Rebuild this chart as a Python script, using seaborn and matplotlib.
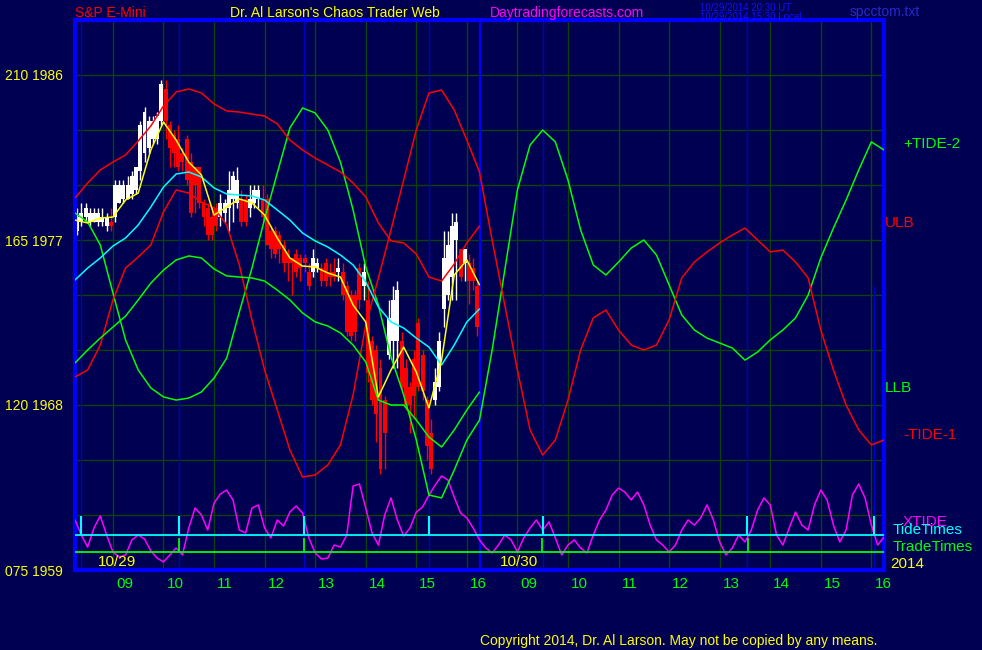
import numpy as np
import matplotlib
matplotlib.use('Agg')
import matplotlib.pyplot as plt
import matplotlib.transforms as mtransforms
import seaborn as sns

# Eixo x: horas de pregao desde 10/29 08:15 (0-8 = dia 10/29, 8-16 = dia 10/30)

# Candles de 5 minutos do dia 10/29
abertura = [1977.5, 1978.0, 1978.25, 1978.0, 1978.0, 1978.0, 1978.0, 1977.75, 1978.0, 1978.25,
            1979.0, 1979.25, 1979.25, 1979.5, 1979.75, 1980.75, 1981.75, 1982.0, 1982.5, 1982.5,
            1983.5, 1985.25, 1983.25, 1982.75, 1982.5, 1981.75, 1982.5, 1981.25, 1981.0, 1981.0,
            1979.0, 1978.75, 1978.25, 1978.75, 1978.25, 1978.5, 1978.75, 1979.25, 1979.0, 1979.25,
            1979.25, 1978.75, 1979.0, 1979.25, 1979.25, 1979.25, 1977.5, 1977.5, 1977.25, 1976.75,
            1976.25, 1976.0, 1976.25, 1976.0, 1976.0, 1975.25, 1975.25, 1975.5, 1975.5, 1975.75,
            1975.25, 1975.25, 1975.25, 1975.25, 1974.5, 1974.0, 1974.0, 1975.5, 1974.5, 1973.75,
            1971.5, 1971.0, 1970.0, 1968.25, 1970.75, 1971.5, 1971.5, 1971.5, 1970.0, 1969.0,
            1970.5, 1972.5, 1970.75, 1968.25, 1966.5, 1968.25, 1969.0, 1973.25, 1974.0, 1975.0,
            1977.0, 1976.5, 1975.75, 1975.75, 1975.5, 1974.5]
maxima = [1978.75, 1979.0, 1979.0, 1978.75, 1978.75, 1978.75, 1978.75, 1978.5, 1978.75, 1980.25,
          1980.25, 1980.25, 1980.5, 1980.75, 1981.0, 1983.5, 1984.25, 1983.75, 1983.75, 1984.0,
          1985.75, 1985.75, 1983.5, 1983.0, 1983.25, 1982.0, 1982.75, 1981.75, 1981.0, 1981.0,
          1979.25, 1979.0, 1978.75, 1979.0, 1979.5, 1979.25, 1980.75, 1980.75, 1981.0, 1979.75,
          1979.5, 1980.0, 1980.0, 1980.0, 1980.0, 1979.5, 1977.75, 1977.75, 1977.5, 1977.0,
          1976.5, 1976.0, 1976.5, 1976.25, 1976.25, 1975.75, 1976.5, 1976.0, 1975.75, 1976.0,
          1975.75, 1976.0, 1976.0, 1975.75, 1974.75, 1974.25, 1974.25, 1975.75, 1975.75, 1974.75,
          1971.75, 1971.25, 1970.5, 1968.5, 1973.75, 1974.5, 1974.75, 1972.0, 1970.5, 1969.25,
          1971.0, 1972.75, 1971.0, 1968.5, 1967.25, 1970.0, 1972.0, 1977.5, 1977.5, 1978.5,
          1978.5, 1976.5, 1976.5, 1976.25, 1976.0, 1974.75]
minima = [1977.25, 1977.75, 1978.0, 1977.75, 1978.0, 1977.75, 1977.75, 1977.5, 1977.5, 1978.0,
          1979.0, 1979.0, 1979.25, 1979.25, 1979.5, 1980.25, 1981.25, 1981.75, 1982.25, 1982.25,
          1983.25, 1982.5, 1981.0, 1981.0, 1980.75, 1980.75, 1980.0, 1978.25, 1978.5, 1978.75,
          1977.75, 1977.0, 1977.0, 1977.5, 1977.75, 1978.0, 1977.5, 1978.0, 1978.75, 1977.75,
          1977.75, 1978.25, 1978.75, 1978.75, 1978.0, 1976.75, 1976.0, 1976.0, 1975.75, 1975.25,
          1974.75, 1974.0, 1975.0, 1974.75, 1975.25, 1974.25, 1975.0, 1975.25, 1974.5, 1974.5,
          1974.5, 1974.75, 1974.75, 1973.75, 1971.75, 1971.5, 1971.5, 1973.25, 1973.75, 1969.25,
          1968.0, 1966.0, 1964.25, 1964.5, 1970.5, 1970.0, 1970.0, 1968.75, 1967.75, 1966.5,
          1967.25, 1968.75, 1968.25, 1965.0, 1964.25, 1968.0, 1968.75, 1972.25, 1973.75, 1973.75,
          1973.75, 1974.75, 1974.75, 1973.5, 1974.25, 1971.75]
fechamento = [1978.25, 1978.5, 1978.75, 1978.5, 1978.5, 1978.5, 1978.25, 1978.25, 1977.75, 1980.0,
              1980.0, 1980.0, 1980.0, 1980.5, 1981.0, 1983.25, 1984.0, 1983.5, 1983.5, 1983.75,
              1985.5, 1983.5, 1982.0, 1981.75, 1981.0, 1981.25, 1980.25, 1978.5, 1980.0, 1979.0,
              1978.25, 1977.25, 1977.25, 1977.75, 1979.0, 1979.0, 1979.75, 1980.5, 1980.25, 1978.0,
              1978.0, 1979.25, 1979.75, 1979.75, 1978.25, 1976.75, 1976.5, 1976.25, 1976.5, 1975.75,
              1975.75, 1975.75, 1975.25, 1975.5, 1975.75, 1974.5, 1976.0, 1975.75, 1974.75, 1974.75,
              1975.0, 1975.0, 1975.5, 1974.0, 1972.0, 1971.75, 1972.0, 1973.75, 1975.25, 1969.75,
              1968.25, 1967.5, 1964.5, 1966.5, 1972.75, 1973.75, 1974.25, 1969.0, 1968.0, 1968.0,
              1968.5, 1969.0, 1968.75, 1965.75, 1964.5, 1969.25, 1971.5, 1976.0, 1976.75, 1977.75,
              1978.0, 1975.0, 1976.5, 1974.75, 1974.75, 1972.25]

# Bandas e medias do dia 10/29, a cada 15 minutos
ulb = [1979.29, 1980.11, 1980.82, 1981.25, 1981.64, 1982.40, 1983.22, 1984.31, 1985.07, 1985.24,
       1985.02, 1984.42, 1984.04, 1983.98, 1983.87, 1983.76, 1983.33, 1982.45, 1981.91, 1981.47,
       1981.09, 1980.71, 1980.11, 1979.35, 1977.93, 1976.95, 1976.84, 1976.24, 1974.98, 1974.76,
       1975.69, 1976.84, 1977.76]
centro = [1974.82, 1975.47, 1976.02, 1976.67, 1977.11, 1977.82, 1978.80, 1979.89, 1980.60, 1980.71,
          1980.44, 1979.84, 1979.51, 1979.45, 1979.40, 1979.18, 1978.64, 1978.09, 1977.38, 1976.95,
          1976.62, 1976.18, 1975.64, 1974.71, 1973.35, 1972.53, 1972.20, 1971.65, 1971.16, 1970.18,
          1971.27, 1972.53, 1973.24]
media = [1978.09, 1977.93, 1978.20, 1978.25, 1979.18, 1979.56, 1981.91, 1983.44, 1982.45, 1981.25,
         1980.55, 1978.36, 1978.80, 1979.24, 1979.02, 1978.36, 1977.11, 1976.02, 1975.58, 1975.53,
         1975.20, 1974.98, 1973.45, 1972.53, 1968.44, 1969.91, 1971.16, 1969.80, 1967.84, 1970.45,
         1975.09, 1975.91, 1974.55]
llb = [1970.29, 1971.0, 1971.65, 1972.25, 1972.85, 1973.73, 1974.65, 1975.36, 1975.91, 1976.13,
       1976.02, 1975.42, 1975.04, 1974.98, 1974.93, 1974.76, 1974.27, 1973.73, 1973.02, 1972.53,
       1972.31, 1971.93, 1971.27, 1970.35, 1968.27, 1968.0, 1968.0, 1967.18, 1966.25, 1965.71,
       1966.64, 1967.73, 1968.71]

# Curvas de mare dos dois dias, a cada 15 minutos
tide_2 = [1978.47, 1977.98, 1976.73, 1974.11, 1971.55, 1969.91, 1968.93, 1968.44, 1968.27, 1968.38,
          1968.71, 1969.47, 1970.56, 1973.07, 1975.47, 1978.15, 1980.65, 1983.11, 1984.20, 1983.93,
          1983.0, 1981.25, 1978.64, 1975.53, 1973.45, 1970.62, 1968.55, 1966.09, 1963.09, 1962.93,
          1964.45, 1966.09, 1967.18, 1971.0, 1975.36, 1979.73, 1982.18, 1983.0, 1982.35, 1980.27,
          1977.55, 1975.64, 1975.09, 1975.80, 1976.56, 1977.0, 1976.18, 1974.55, 1972.91, 1972.09,
          1971.65, 1971.38, 1971.11, 1970.45, 1970.89, 1971.55, 1972.09, 1972.75, 1974.0, 1976.02,
          1977.65, 1979.18, 1980.82, 1982.35, 1981.91]
tide_1 = [1969.53, 1969.91, 1971.27, 1973.73, 1975.47, 1976.07, 1976.73, 1978.53, 1979.73, 1979.56,
          1979.07, 1978.75, 1977.82, 1975.64, 1972.64, 1969.91, 1967.73, 1965.55, 1964.07, 1964.18,
          1964.73, 1965.82, 1968.55, 1972.36, 1974.93, 1977.55, 1980.27, 1983.0, 1985.02, 1985.18,
          1984.09, 1982.45, 1980.71, 1977.0, 1973.45, 1969.91, 1966.64, 1965.27, 1966.09, 1968.27,
          1971.0, 1972.75, 1973.18, 1972.09, 1971.27, 1971.0, 1971.27, 1972.64, 1974.93, 1975.80,
          1976.35, 1976.84, 1977.27, 1977.65, 1977.0, 1976.35, 1976.45, 1975.80, 1974.93, 1972.09,
          1969.91, 1968.0, 1966.64, 1965.82, 1966.09]

# Oscilador XTIDE, a cada 7,5 minutos
xtide = [1961.73, 1960.91, 1960.25, 1961.29, 1961.95, 1960.91, 1959.98, 1959.71, 1959.82, 1960.64,
         1960.91, 1960.69, 1960.04, 1959.65, 1959.44, 1959.82, 1960.20, 1959.82, 1961.29, 1962.38,
         1962.0, 1961.18, 1962.65, 1963.15, 1963.36, 1962.82, 1961.18, 1961.02, 1962.38, 1962.55,
         1961.29, 1960.75, 1961.73, 1961.40, 1962.16, 1962.49, 1962.11, 1960.75, 1959.93, 1959.60,
         1959.65, 1960.36, 1960.25, 1960.91, 1963.58, 1963.69, 1962.38, 1961.02, 1960.36, 1962.0,
         1962.93, 1961.73, 1960.85, 1961.29, 1962.16, 1962.44, 1963.09, 1963.64, 1964.13, 1963.91,
         1962.98, 1962.11, 1961.84, 1961.29, 1960.64,
         1960.20, 1959.93, 1960.36, 1960.91, 1960.64, 1959.98, 1960.75, 1961.29, 1961.73, 1961.18,
         1961.62, 1960.75, 1959.82, 1960.36, 1960.64, 1960.20, 1959.93, 1960.91, 1961.73, 1962.27,
         1963.09, 1963.47, 1963.25, 1962.82, 1963.25, 1962.55, 1961.45, 1960.64, 1960.36, 1959.98,
         1960.36, 1961.18, 1961.73, 1961.45, 1961.84, 1962.55, 1961.73, 1960.53, 1959.82, 1960.20,
         1960.91, 1960.53, 1961.18, 1962.27, 1962.93, 1962.55, 1960.91, 1960.36, 1961.29, 1962.16,
         1961.45, 1961.18, 1962.55, 1963.36, 1962.82, 1961.45, 1960.53, 1961.18, 1963.09, 1963.69,
         1962.93, 1961.45, 1960.36, 1960.80]

tide_times = [0.12, 2.06, 4.53, 7.0, 9.26, 13.29, 15.8]
trade_times = [2.06, 4.53, 9.24, 13.31]
nivel_tide, topo_tide = 1960.91, 1961.95
nivel_trade, topo_trade = 1959.98, 1960.75

horas = ['09', '10', '11', '12', '13', '14', '15', '16']
precos_eixo = [1959, 1968, 1977, 1986]
rotulos_eixo = ['075 1959', '120 1968', '165 1977', '210 1986']

# tempos
t_candle = np.arange(len(abertura)) / 12 + 1 / 24
t_banda = np.arange(len(ulb)) * 0.25
t_tide = np.arange(len(tide_1)) * 0.25
t_xtide = np.arange(len(xtide)) * 0.125
t_horas = [h + 0.75 for h in range(8)] + [h + 8.75 for h in range(8)]

fundo = '#000052'
grade = '#0a420a'

sns.set_style('dark')
plt.rcParams['font.family'] = 'Liberation Sans'

fig = plt.figure(figsize=(9.82, 6.5), dpi=100, facecolor=fundo)
ax = fig.add_axes([75 / 982, 80 / 650, 809 / 982, 550 / 650])
ax.set_facecolor(fundo)
ax.set_xlim(0, 16)
ax.set_ylim(1959, 1989)

# grade
ax.set_yticks(precos_eixo)
ax.set_yticklabels(rotulos_eixo)
ax.set_yticks(np.arange(1962, 1989, 3), minor=True)
ax.set_xticks(t_horas)
ax.set_xticklabels([])
ax.grid(True, which='both', color=grade, lw=1.0)
ax.tick_params(axis='y', which='major', colors='#00c000', labelcolor='#FFFF00',
               length=4, width=1, pad=5, labelsize=10)
ax.tick_params(axis='y', which='minor', length=0)
ax.tick_params(axis='x', colors=grade, length=8, width=1)
for s in ax.spines.values():
    s.set_color('#0000FF')
    s.set_linewidth(3)
ax.set_axisbelow(True)

# linhas verticais de tide times e separador de dia
for t in tide_times:
    topo = 0.515 if t > 15 else 1.0
    ax.axvline(t, ymax=topo, color='#0000C8', lw=1.0, zorder=1)
ax.axvline(8.0, color='#0000FF', lw=1.6, zorder=1)

# candles
for t, o, h, l, c in zip(t_candle, abertura, maxima, minima, fechamento):
    cor = '#FFFFFF' if c >= o else '#FF0000'
    ax.vlines(t, l, h, color=cor, lw=1.0, zorder=2)
    ax.bar(t, max(abs(c - o), 0.12), bottom=min(o, c), width=0.078, color=cor, lw=0, zorder=2)

# curvas
sns.lineplot(x=t_xtide, y=xtide, ax=ax, color='#FF00FF', lw=1.1, sort=False, estimator=None, zorder=3)
sns.lineplot(x=t_tide, y=tide_2, ax=ax, color='#00FF00', lw=1.1, sort=False, estimator=None, zorder=3)
sns.lineplot(x=t_tide, y=tide_1, ax=ax, color='#FF0000', lw=1.1, sort=False, estimator=None, zorder=3)
sns.lineplot(x=t_banda, y=ulb, ax=ax, color='#FF0000', lw=1.1, sort=False, estimator=None, zorder=4)
sns.lineplot(x=t_banda, y=llb, ax=ax, color='#00FF00', lw=1.1, sort=False, estimator=None, zorder=4)
sns.lineplot(x=t_banda, y=centro, ax=ax, color='#00FFFF', lw=1.1, sort=False, estimator=None, zorder=4)
sns.lineplot(x=t_banda, y=media, ax=ax, color='#FFFF00', lw=1.1, sort=False, estimator=None, zorder=5)

# linhas de tide times e trade times
ax.hlines(nivel_tide, 0, 16, color='#00FFFF', lw=1.3, zorder=6)
ax.vlines(tide_times, nivel_tide, topo_tide, color='#00FFFF', lw=1.5, zorder=6)
ax.hlines(nivel_trade, 0, 16, color='#00FF00', lw=1.3, zorder=6)
ax.vlines(trade_times, nivel_trade, topo_trade, color='#00FF00', lw=1.3, zorder=6)

# rotulos das horas
trans = mtransforms.blended_transform_factory(ax.transData, ax.transAxes)
for t, h in zip(t_horas, horas + horas):
    ax.text(t + 0.06, -0.025, h, transform=trans, color='#00FF00', fontsize=11,
            ha='left', va='center')
ax.text(0.45, 0.015, '10/29', transform=trans, color='#FFFF00', fontsize=11, ha='left', va='center')
ax.text(8.4, 0.015, '10/30', transform=trans, color='#FFFF00', fontsize=11, ha='left', va='center')


def texto_px(x, y, s, cor, tam=11):
    fig.text(x / 982, 1 - y / 650, s, color=cor, fontsize=tam, ha='left', va='center')


# cabecalho
texto_px(75, 13, 'S&P E-Mini', '#FF0000', 10)
texto_px(230, 13, "Dr. Al Larson's Chaos Trader Web", '#FFFF00', 10)
texto_px(490, 13, 'Daytradingforecasts.com', '#FF00FF', 10)
texto_px(700, 8, '10/29/2014 20:30 UT', '#1010FF', 7)
texto_px(700, 17, '10/29/2014 15:30 Local', '#1010FF', 7)
texto_px(850, 12, 'spcctom.txt', '#2828C8', 10)

# rotulos a direita
texto_px(903, 144, '+TIDE-2', '#00FF00')
texto_px(885, 223, 'ULB', '#FF0000')
texto_px(885, 388, 'LLB', '#00FF00')
texto_px(903, 435, '-TIDE-1', '#FF0000')
texto_px(903, 522, 'XTIDE', '#FF00FF')
texto_px(893, 530, 'TideTimes', '#00FFFF')
texto_px(893, 547, 'TradeTimes', '#00FF00')
texto_px(890, 564, '2014', '#FFFF00')

texto_px(480, 641, 'Copyright 2014, Dr. Al Larson. May not be copied by any means.', '#FFFF00', 10)

fig.savefig('out.png', dpi=100, facecolor=fundo)
